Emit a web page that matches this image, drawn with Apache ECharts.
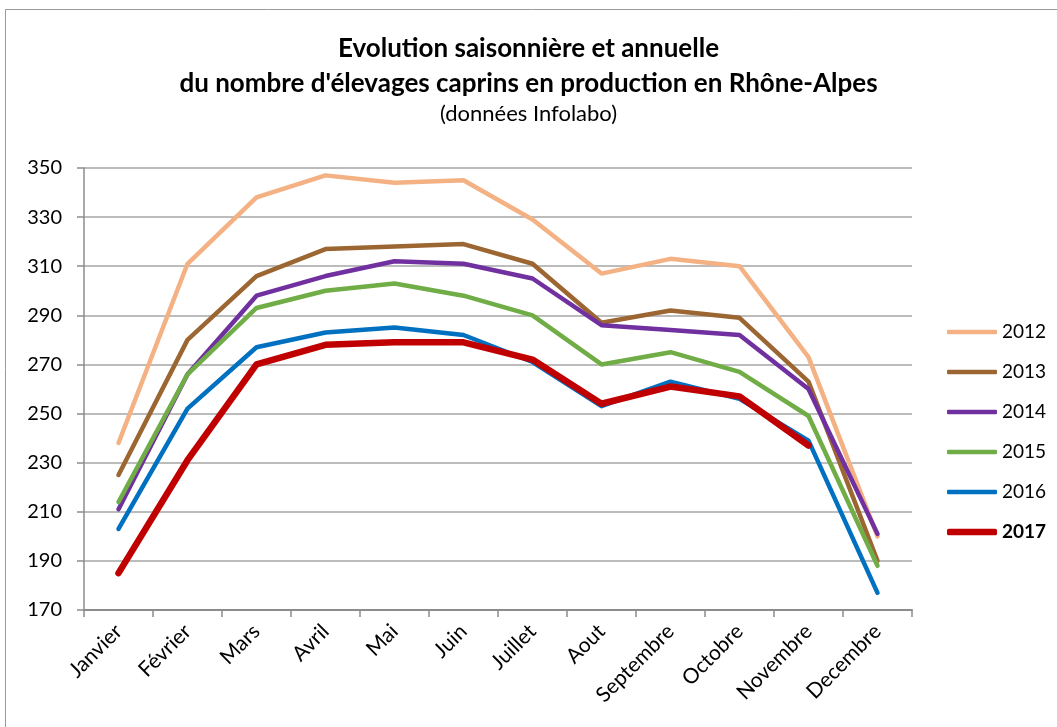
<!DOCTYPE html>
<html>
<head>
<meta charset="utf-8">
<script src="https://cdn.jsdelivr.net/npm/echarts@6/dist/echarts.min.js"></script>
<style>
  html, body { margin: 0; padding: 0; background: #fff; }
  #chart { width: 1057px; height: 727px; }
</style>
</head>
<body>
<div id="chart"></div>
<script>
// mois (axe des x)
const mois = ['Janvier', 'Février', 'Mars', 'Avril', 'Mai', 'Juin', 'Juillet',
  'Aout', 'Septembre', 'Octobre', 'Novembre', 'Decembre'];

// nombre d'élevages par année
const y2012 = [238, 311, 338, 347, 344, 345, 329, 307, 313, 310, 273, 200];
const y2013 = [225, 280, 306, 317, 318, 319, 311, 287, 292, 289, 263, 190];
const y2014 = [211, 266, 298, 306, 312, 311, 305, 286, 284, 282, 260, 201];
const y2015 = [214, 266, 293, 300, 303, 298, 290, 270, 275, 267, 249, 188];
const y2016 = [203, 252, 277, 283, 285, 282, 271, 253, 263, 256, 239, 177];
const y2017 = [185, 231, 270, 278, 279, 279, 272, 254, 261, 257, 237, null];

const annees = ['2012', '2013', '2014', '2015', '2016', '2017'];
const couleurs = ['#F4B183', '#9C6633', '#7030A0', '#70AD47', '#0070C0', '#C00000'];
const valeurs = [y2012, y2013, y2014, y2015, y2016, y2017];

const font = 'Lato, "Noto Sans", sans-serif';

let myChart = echarts.init(document.getElementById('chart'));

let series = annees.map(function (an, i) {
  let w = an === '2017' ? 6.5 : 4.5;
  return {
    name: an,
    type: 'line',
    data: valeurs[i],
    showSymbol: false,
    symbol: 'none',
    connectNulls: false,
    itemStyle: { color: couleurs[i] },
    lineStyle: { color: couleurs[i], width: w, cap: 'round', join: 'round' }
  };
});

myChart.setOption({
  animation: false,
  textStyle: { fontFamily: font },
  graphic: [{
    type: 'rect',
    shape: { x: 5.5, y: 9.5, width: 1200, height: 900 },
    style: { fill: 'none', stroke: '#9a9a9a', lineWidth: 1 },
    silent: true
  }],
  title: {
    text: "Evolution saisonnière et annuelle\ndu nombre d'élevages caprins en production en Rhône-Alpes",
    subtext: '(données Infolabo)',
    left: 'center',
    top: 26,
    itemGap: 1,
    textStyle: {
      fontFamily: font,
      fontSize: 26,
      fontWeight: 'bold',
      color: '#000',
      lineHeight: 35
    },
    subtextStyle: {
      fontFamily: font,
      fontSize: 22,
      color: '#000',
      lineHeight: 24
    }
  },
  legend: [{
    data: annees.slice(0, 5),
    orient: 'vertical',
    left: 947,
    top: 322,
    padding: 0,
    itemWidth: 50,
    itemHeight: 4.5,
    itemGap: 20,
    icon: 'roundRect',
    textStyle: { fontFamily: font, fontSize: 19, color: '#000', lineHeight: 20 }
  }, {
    data: ['2017'],
    orient: 'vertical',
    left: 947,
    top: 522,
    padding: 0,
    itemWidth: 50,
    itemHeight: 6.5,
    icon: 'roundRect',
    textStyle: { fontFamily: font, fontSize: 19, fontWeight: 'bold', color: '#000', lineHeight: 20 }
  }],
  grid: {
    left: 84,
    right: 145,
    top: 168,
    bottom: 117
  },
  xAxis: {
    type: 'category',
    data: mois,
    boundaryGap: true,
    axisLine: { show: true, lineStyle: { color: '#8c8c8c', width: 2 } },
    axisTick: { show: true, length: 7, interval: 0, lineStyle: { color: '#8c8c8c', width: 1.5 } },
    axisLabel: {
      interval: 0,
      rotate: 45,
      margin: 18,
      fontFamily: font,
      fontSize: 21,
      color: '#000'
    },
    splitLine: { show: false }
  },
  yAxis: {
    type: 'value',
    min: 170,
    max: 350,
    interval: 20,
    axisLine: { show: true, lineStyle: { color: '#8c8c8c', width: 1.5 } },
    axisTick: { show: true, length: 7, lineStyle: { color: '#8c8c8c', width: 1.5 } },
    axisLabel: {
      margin: 22,
      fontFamily: font,
      fontSize: 20,
      color: '#000'
    },
    splitLine: { show: true, lineStyle: { color: '#a6a6a6', width: 1.5 } }
  },
  series: series
});
</script>
</body>
</html>
